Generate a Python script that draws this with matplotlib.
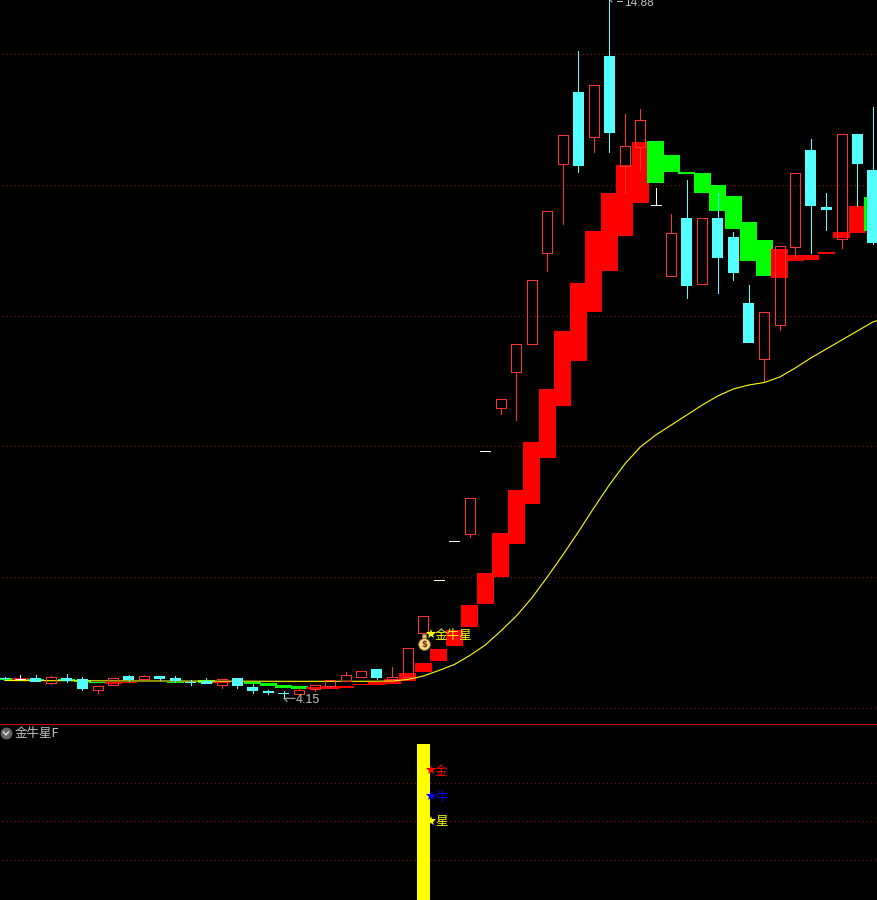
import matplotlib
matplotlib.use("Agg")
import matplotlib.pyplot as plt
import numpy as np

plt.rcParams['font.family'] = ['Noto Sans CJK SC', 'DejaVu Sans']

# 读图得到的数值: 纵轴单位是图上的行号, 越小价格越高
# bar index -> 位置
first_bar = 4.8
bar_step = 15.5

# 'c'=阴线青色 'r'=阳线空心红 'w'=十字白
kinds = list("cwcrccrrcrcccc" "rccccrrrrrcrrr" "wwrwrrrrrcrcrrw" "rcrcccrrrccrcc")
body_top = [678, 678.5, 678, 677.3, 678, 679.3, 686, 678.3, 676, 676, 676, 678, 682, 681.3,
            679.3, 678, 687, 691, 692.5, 690, 685.3, 680.3, 675.3, 671.3, 669.3, 677.3, 648.3, 616.3,
            580, 541, 498.3, 451, 399.3, 344, 280.3, 211.3, 135.3, 92, 85.3, 56, 146.3,
            120.3, 205, 233.3, 218, 218.3, 218, 237, 303, 312.3, 246.3, 173.3, 150, 207.3,
            134.3, 134, 170]
body_bot = [679, 679.5, 682, 682.7, 680.7, 689, 689.7, 684.7, 680, 678.7, 679, 681.3, 683, 684,
            684.7, 686, 691, 693, 693.5, 693.7, 688.7, 686, 681.3, 676.7, 677.7, 679.3, 676.7, 633,
            581, 542, 533.7, 452, 407.7, 372, 344, 252.7, 163.7, 166, 136.7, 133, 165.7,
            146.7, 206, 275.7, 286, 283.7, 258, 273, 343, 358.7, 324.7, 246.7, 206, 210,
            238.7, 164, 243]
wick_top = [676.7, 675.3, 675.3, 676, 674, 677, 686, 678.3, 675, 675, 676, 676, 680, 678,
            679.3, 678, 684, 690, 691, 688, 685.3, 680.3, 672.3, 671.3, 669.3, 667.3, 648.3, 616.3,
            580, 541, 498.3, 451, 399.3, 344, 280.3, 211.3, 135.3, 51, 85.3, 0, 114,
            109, 188.3, 214, 180, 218.3, 193, 232, 285, 312.3, 246.3, 173.3, 139, 193,
            134.3, 134, 106.7]
wick_bot = [680, 680, 682, 683.7, 682, 690, 693, 684.7, 681, 678.7, 680, 682.3, 685, 684,
            688, 688, 693, 693.5, 698, 693.7, 691, 688, 681.3, 676.7, 678.7, 680, 676.7, 633,
            581, 542, 536.7, 452, 413.7, 419.7, 344, 270.7, 223.7, 172, 151.7, 151.7, 192.7,
            171, 206, 275.7, 298, 283.7, 293, 280, 343, 381, 330, 256.7, 253, 230,
            248, 206, 244]

# 金牛星趋势带
band_kinds = list("grgrgggrr  g g" "r ggggrrrrrrrr" "rrrrrrrrrrrrrr" "gggggggg" "rrrrrr" "g")
band_top = [678.3, 678, 679, 679.5, 679, 680, 681.5, 681.5, 681.5, 681, 681, 681.5, 681, 680,
            680.5, 681, 681.7, 683.3, 685, 686, 687, 686, 686, 684, 682, 679, 673, 663,
            649, 630, 605, 573, 533, 490, 442, 389, 331, 283, 231, 193, 165,
            142, 141, 155, 172, 173, 185, 196, 222, 240, 249, 255, 255, 252,
            232, 206, 197]
band_bot = [679.5, 680, 681, 681, 681, 682, 683, 683.5, 683, 681, 681, 683, 681, 683,
            682.5, 681, 683.7, 686, 688, 689, 689, 688.7, 688, 685, 685, 684, 680.7, 672,
            661, 646, 627, 604, 577, 544, 504, 458, 406, 361, 312, 271, 236,
            203, 183, 172, 174, 193, 211, 229, 261, 276, 278, 261, 260, 254,
            238, 233, 231]

# 均线多读一个点, 画到右边界外
ma_line = [680.5, 680.6, 680.6, 680.7, 680.7, 680.8, 680.8, 680.9, 680.9, 681, 681, 681, 681.1, 681.1,
           681.2, 681.2, 681.2, 681.3, 681.3, 681.3, 681.3, 681.3, 681.3, 681.3, 681.2, 681, 679.5, 676,
           670.5, 664.5, 655.5, 645, 631, 616, 598, 577, 555, 532, 508, 485, 464,
           447, 435, 425, 415, 405, 396, 389, 385, 382.5, 377, 368, 358, 349,
           340, 331, 322, 317]

grid_top = [54.3, 185.3, 316.3, 446.3, 577.3, 708.3]
grid_low = [783.3, 821.3, 860.3]

signal_bar = 27
signal_top = 744
signal_bot = 900
signal_names = ["金", "牛", "星"]
signal_y = [770, 796, 821]
signal_colors = ["#ff0000", "#0000ff", "#ffff00"]

high_text = "14.88"
low_text = "4.15"
title_text = "金牛星F"
mark_text = "金牛星"

x = first_bar + bar_step * np.arange(len(kinds))
x_ma = first_bar + bar_step * np.arange(len(ma_line))
RED = '#ff3232'
CYAN = '#54ffff'
GREY = '#c0c0c0'
px = 0.72  # 1 像素对应的 pt

fig = plt.figure(figsize=(8.78, 9.0), dpi=100, facecolor='black')
ax = fig.add_axes([0, 0, 1, 1], facecolor='black')
ax.set_xlim(0, 878)
ax.set_ylim(900, 0)
ax.axis('off')

# 网格
ax.hlines(grid_top + grid_low, 3, 878, colors='#a00000', linewidth=px,
          linestyles=(0, (1, 3)), zorder=1, antialiased=False)
ax.hlines(724.3, 0, 878, colors='#d00000', linewidth=px, zorder=1, antialiased=False)

# 趋势带
for i in range(len(x)):
    if band_kinds[i] == ' ':
        continue
    c = '#ff0000' if band_kinds[i] == 'r' else '#00ff00'
    ax.bar(x[i], band_bot[i] - band_top[i], 17, bottom=band_top[i], color=c,
           linewidth=0, zorder=2, antialiased=False)

# 均线在趋势带之上
ax.plot(x_ma, ma_line, color='#ffff00', linewidth=0.8, zorder=3, antialiased=True)

# K线
for i in range(len(x)):
    k = kinds[i]
    c = {'c': CYAN, 'r': RED, 'w': 'white'}[k]
    ax.vlines(x[i], wick_top[i], body_top[i], colors=c, linewidth=px, zorder=4, antialiased=False)
    ax.vlines(x[i], body_bot[i], wick_bot[i], colors=c, linewidth=px, zorder=4, antialiased=False)
    if k == 'c':
        ax.bar(x[i], body_bot[i] - body_top[i], 11, bottom=body_top[i], color=c,
               linewidth=0, zorder=4, antialiased=False)
    elif k == 'r':
        ax.bar(x[i], body_bot[i] - body_top[i], 10, bottom=body_top[i], facecolor='none',
               edgecolor=c, linewidth=px, zorder=4, antialiased=False)
    else:
        ax.hlines(body_top[i], x[i] - 5, x[i] + 5, colors=c, linewidth=px, zorder=4, antialiased=False)

# 最高最低标注
ax.text(624, 3, high_text, color=GREY, fontsize=8.6, family='Liberation Sans', va='center', zorder=6)
ax.plot([617, 622], [1, 1], color=GREY, linewidth=px, zorder=6)
ax.plot([610, 612], [0, 2], color=GREY, linewidth=px, zorder=6)
ax.text(296, 700, low_text, color=GREY, fontsize=9, family='Liberation Sans', va='center', zorder=6)
ax.plot([295, 284, 287], [698.3, 698.3, 701.5], color=GREY, linewidth=px, zorder=6)

# 买入信号
ax.text(435, 635, mark_text, color='#ffff00', fontsize=9, va='center', zorder=7)
ax.plot([431], [634], marker='*', color='#ffff00', markersize=7.5, mew=0, zorder=7)
ax.plot([424], [644], marker='o', color='#f6d98a', mec='#8a6a20', mew=0.6, markersize=8.5, zorder=7)
ax.plot([424], [636], marker='s', color='#e8c468', mec='#8a6a20', mew=0.5, markersize=3.5, zorder=7)
ax.text(424, 644, "$", color='#7a3010', fontsize=6, family='DejaVu Sans', fontweight='bold',
        ha='center', va='center', zorder=8)

# 副图
ax.text(15, 733.5, title_text, color=GREY, fontsize=9, va='center', zorder=7)
ax.plot([6], [733], marker='o', color='#666666', markersize=8.5, mew=0, zorder=6)
ax.plot([3.5, 6, 8.5], [732, 735, 732], color='#dddddd', linewidth=1, zorder=7)

ax.bar(x[signal_bar], signal_bot - signal_top, 13, bottom=signal_top, color='#ffff00',
       linewidth=0, zorder=2, antialiased=False)
for name, sy, sc in zip(signal_names, signal_y, signal_colors):
    ax.text(435, sy + 1, name, color=sc, fontsize=9, va='center', zorder=7)
    ax.plot([431.5], [sy], marker='*', color=sc, markersize=7.5, mew=0, zorder=7)

fig.savefig('out.png', dpi=100, facecolor='black')
